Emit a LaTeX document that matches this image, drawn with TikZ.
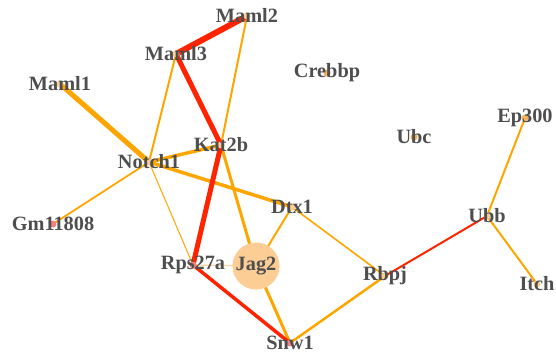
\documentclass[tikz,border=0pt]{standalone}
\usepackage{fontspec}
\setmainfont{Liberation Serif}
\usetikzlibrary{backgrounds}
\definecolor{edgeorange}{RGB}{255,165,0}
\definecolor{edgered}{RGB}{255,36,0}
\definecolor{edgefaint}{RGB}{252,210,160}
\definecolor{labelgray}{RGB}{78,78,78}
\definecolor{dotpeach}{RGB}{252,206,150}
\definecolor{dotorange}{RGB}{245,180,90}
\definecolor{dotpink}{RGB}{244,128,128}
\definecolor{jagfill}{RGB}{252,206,150}
\tikzset{
  gene/.style={circle, inner sep=0pt, minimum size=7bp, draw=none, fill=dotpeach,
    label={[text=labelgray, font=\bfseries\fontsize{20.3bp}{23bp}\selectfont, inner sep=0pt]center:#1}},
  pinkgene/.style={gene=#1, fill=dotpink},
  ogene/.style={gene=#1, fill=dotorange},
  hub/.style={circle, inner sep=0pt, minimum size=47bp, fill=jagfill, text=labelgray,
    font=\bfseries\fontsize{20.3bp}{23bp}\selectfont},
  olink/.style={draw=edgeorange, line width=#1},
  rlink/.style={draw=edgered, line width=#1},
  flink/.style={draw=edgefaint, line width=#1},
}
\begin{document}
\begin{tikzpicture}[x=1bp, y=-1bp, line cap=round]
\useasboundingbox (0,0) rectangle (556,356);
% gene nodes
\node[gene=Maml2]        (maml2)  at (247,16)  {};
\node[gene=Maml3]        (maml3)  at (176,54)  {};
\node[gene=Maml1]        (maml1)  at (60,84)   {};
\node[gene=Kat2b]        (kat2b)  at (221,145) {};
\node[gene=Notch1]       (notch1) at (149,162) {};
\node[pinkgene=Gm11808]  (gm)     at (53,224)  {};
\node[pinkgene=Rps27a]   (rps)    at (193,265) {};
\node[hub]               (jag2)   at (256,266) {Jag2};
\node[pinkgene=Snw1]     (snw1)   at (290,343) {};
\node[gene=Dtx1]         (dtx1)   at (292,207) {};
\node[gene=Rbpj]         (rbpj)   at (385,276) {};
\node[gene=Ubb]          (ubb)    at (487,216) {};
\node[gene=Itch]         (itch)   at (537,284) {};
\node[ogene=Ep300]       (ep300)  at (525,118) {};
\node[ogene=Ubc]         (ubc)    at (414,137) {};
\node[ogene=Crebbp]      (crebbp) at (327,73)  {};
% interactions
\begin{scope}[on background layer]
  \draw[olink=2bp]   (maml2.center)  -- (kat2b.center);
  \draw[olink=2bp]   (maml3.center)  -- (notch1.center);
  \draw[olink=5bp]   (maml1.center)  -- (notch1.center);
  \draw[olink=3.5bp] (notch1.center) -- (kat2b.center);
  \draw[olink=3.5bp] (notch1.center) -- (dtx1.center);
  \draw[olink=1.8bp] (notch1.center) -- (gm.center);
  \draw[olink=1bp]   (notch1.center) -- (rps.center);
  \draw[olink=3bp]   (kat2b.center)  -- (jag2.center);
  \draw[flink=1.2bp] (rps.center)    -- (jag2.center);
  \draw[olink=3bp]   (jag2.center)   -- (snw1.center);
  \draw[olink=2bp]   (jag2.center)   -- (dtx1.center);
  \draw[olink=1.6bp] (dtx1.center)   -- (rbpj.center);
  \draw[olink=2.5bp] (snw1.center)   -- (rbpj.center);
  \draw[olink=2bp]   (ubb.center)    -- (ep300.center);
  \draw[olink=2bp]   (ubb.center)    -- (itch.center);
  \draw[rlink=6bp]   (maml2.center)  -- (maml3.center);
  \draw[rlink=5bp]   (maml3.center)  -- (kat2b.center);
  \draw[rlink=5bp]   (kat2b.center)  -- (rps.center);
  \draw[rlink=3.5bp] (rps.center)    -- (snw1.center);
  \draw[rlink=2bp]   (rbpj.center)   -- (ubb.center);
\end{scope}
\end{tikzpicture}
\end{document}
